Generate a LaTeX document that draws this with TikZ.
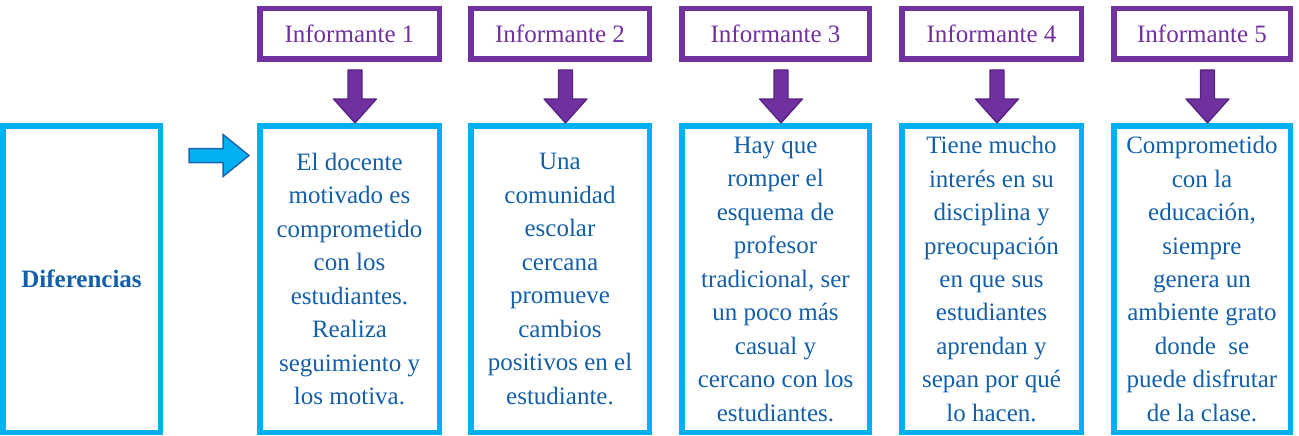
\documentclass[tikz,border=0pt]{standalone}
\usepackage{fontspec}
\setmainfont{Liberation Serif}
\usetikzlibrary{calc}
\definecolor{ppl}{HTML}{7030A0}
\definecolor{pplD}{HTML}{55237E}
\definecolor{cyanbox}{HTML}{00B0F0}
\definecolor{txtblue}{HTML}{135FA9}
\definecolor{arrblue}{HTML}{1F64AE}
\tikzset{
  infbox/.style={draw=ppl,line width=5.5pt,inner sep=0pt,outer sep=0pt,minimum height=50.5pt,
    text=ppl,font=\fontsize{25}{30}\selectfont},
  txtbox/.style={draw=cyanbox,line width=5.5pt,inner sep=0pt,outer sep=0pt,minimum height=306.5pt,
    text=txtblue,align=center,font=\fontsize{25}{33.5}\selectfont},
  parrow/.style={fill=ppl,draw=pplD,line width=1.2pt,line join=round},
  barrow/.style={fill=cyanbox,draw=arrblue,line width=1.5pt,line join=miter},
}
\begin{document}
\begin{tikzpicture}[x=1pt,y=-1pt]
\useasboundingbox (0,0) rectangle (1299,436);
% informant boxes
\node[infbox,minimum width=179.5pt] (p1) at (349.5,34) {Informante 1};
\node[infbox,minimum width=178.5pt] (p2) at (560,34) {Informante 2};
\node[infbox,minimum width=187.5pt] (p3) at (775.5,34) {Informante 3};
\node[infbox,minimum width=179.5pt] (p4) at (991.5,34) {Informante 4};
\node[infbox,minimum width=176.5pt] (p5) at (1202,34) {Informante 5};
% left box
\node[txtbox,minimum width=157.5pt] (d) at (81.5,279) {\bfseries Diferencias};
% text boxes
\node[txtbox,minimum width=179.5pt] (b1) at (349.5,279) {El docente\\ motivado es\\ comprometido\\ con los\\ estudiantes.\\ Realiza\\ seguimiento y\\ los motiva.};
\node[txtbox,minimum width=178.5pt] (b2) at (560,279) {Una\\ comunidad\\ escolar\\ cercana\\ promueve\\ cambios\\ positivos en el\\ estudiante.};
\node[txtbox,minimum width=187.5pt] (b3) at (775.5,279) {Hay que\\ romper el\\ esquema de\\ profesor\\ tradicional, ser\\ un poco más\\ casual y\\ cercano con los\\ estudiantes.};
\node[txtbox,minimum width=179.5pt] (b4) at (991.5,279) {Tiene mucho\\ interés en su\\ disciplina y\\ preocupación\\ en que sus\\ estudiantes\\ aprendan y\\ sepan por qué\\ lo hacen.};
\node[txtbox,minimum width=176.5pt] (b5) at (1202,279) {Comprometido\\ con la\\ educación,\\ siempre\\ genera un\\ ambiente grato\\ donde\ \ se\\ puede disfrutar\\ de la clase.};
% purple block arrows
\foreach \i in {1,...,5}{
  \coordinate (t\i) at ($(b\i.north)+(5.5,-2.75)$);
  \draw[parrow] (t\i) -- ++(-21.5,-24) -- ++(14.5,0) -- ++(0,-29) -- ++(14,0) -- ++(0,29) -- ++(14.5,0) -- cycle;
}
% blue block arrow
\coordinate (ba) at ($(b1.north west)+(-10.75,29.75)$);
\draw[barrow] (ba) -- ++(-26,-21) -- ++(0,14) -- ++(-34,0) -- ++(0,14) -- ++(34,0) -- ++(0,14) -- cycle;
\end{tikzpicture}
\end{document}
